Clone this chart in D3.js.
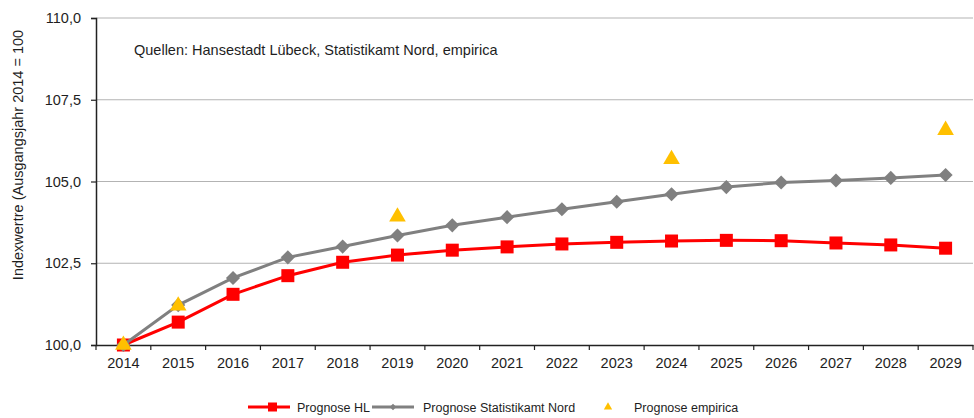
<!DOCTYPE html>
<html><head><meta charset="utf-8">
<script src="https://cdn.jsdelivr.net/npm/d3@7"></script>
<style>body{margin:0;background:#fff}svg{display:block;font-family:"Liberation Sans",Arial,sans-serif}</style>
</head><body><svg id="c" width="974" height="418"></svg>
<script>
const years = ["2014","2015","2016","2017","2018","2019","2020","2021","2022","2023","2024","2025","2026","2027","2028","2029"];
const prognoseHL = [100.0,100.7,101.55,102.12,102.53,102.75,102.9,103.0,103.09,103.14,103.18,103.2,103.19,103.12,103.06,102.96];
const prognoseNord = [100.0,101.22,102.05,102.68,103.01,103.35,103.66,103.91,104.15,104.38,104.61,104.83,104.97,105.03,105.11,105.2];
const prognoseEmpirica = [100.0,101.2,null,null,null,103.92,null,null,null,null,105.68,null,null,null,null,106.57];
const yTicks = [100,102.5,105,107.5,110];
const yTitle = "Indexwertre (Ausgangsjahr 2014 = 100";
const sourceNote = "Quellen: Hansestadt Lübeck, Statistikamt Nord, empirica";
const legendLabels = ["Prognose HL","Prognose Statistikamt Nord","Prognose empirica"];

const svg = d3.select("#c");
const L=96,R=973,T=18,B=345;
const FS=14.5, TXT="#1e1e1e";
const x = d3.scaleBand().domain(years).range([L,R]).padding(0);
const y = d3.scaleLinear().domain([100,110]).range([B,T]);
const fmt = v => d3.format(".1f")(v).replace(".",",");

// gridlines
svg.append("g").selectAll("line").data(yTicks.slice(1)).join("line")
  .attr("x1",L).attr("x2",R).attr("y1",d=>y(d)).attr("y2",d=>y(d))
  .attr("stroke","#b3b3b3").attr("stroke-width",1.2);

// y axis
const ya = svg.append("g").attr("transform",`translate(${L},0)`)
  .call(d3.axisLeft(y).tickValues(yTicks).tickFormat(fmt).tickSize(5).tickPadding(10));
ya.select(".domain").attr("stroke","#222").attr("stroke-width",1.5);
ya.selectAll(".tick line").attr("stroke","#222").attr("stroke-width",1.2);
ya.selectAll("text").attr("font-size",FS).attr("fill",TXT).attr("font-family","Liberation Sans, Arial, sans-serif");

// x axis
const xa = svg.append("g").attr("transform",`translate(0,${B})`)
  .call(d3.axisBottom(x).tickSize(0).tickPadding(13));
xa.select(".domain").attr("stroke","#222").attr("stroke-width",1.5);
xa.selectAll("text").attr("font-size",FS).attr("fill",TXT).attr("font-family","Liberation Sans, Arial, sans-serif");
const bounds = years.map(d=>x(d)).concat([x(years[years.length-1])+x.bandwidth()]);
svg.append("g").selectAll("line").data(bounds).join("line")
  .attr("x1",d=>d).attr("x2",d=>d).attr("y1",B).attr("y2",B+5)
  .attr("stroke","#222").attr("stroke-width",1.2);

// y title
svg.append("text").attr("transform","translate(23,155) rotate(-90)")
  .attr("text-anchor","middle").attr("font-size",FS).attr("fill",TXT).text(yTitle);

// source
svg.append("text").attr("x",134).attr("y",55).attr("font-size",FS).attr("fill",TXT).text(sourceNote);

const cx = d => x(d)+x.bandwidth()/2;
const line = d3.line().defined(d=>d[1]!=null).x(d=>cx(d[0])).y(d=>y(d[1]));

// HL
svg.append("path").datum(years.map((d,i)=>[d,prognoseHL[i]])).attr("d",line)
  .attr("fill","none").attr("stroke","#ff0000").attr("stroke-width",3);
svg.append("g").selectAll("rect").data(years.map((d,i)=>[d,prognoseHL[i]])).join("rect")
  .attr("x",d=>cx(d[0])-6.5).attr("y",d=>y(d[1])-6.5).attr("width",13).attr("height",13)
  .attr("fill","#ff0000");

// Nord
svg.append("path").datum(years.map((d,i)=>[d,prognoseNord[i]])).attr("d",line)
  .attr("fill","none").attr("stroke","#808080").attr("stroke-width",3);
const diamond = d3.symbol().type(d3.symbolSquare).size(100);
svg.append("g").selectAll("path").data(years.map((d,i)=>[d,prognoseNord[i]])).join("path")
  .attr("d",diamond).attr("transform",d=>`translate(${cx(d[0])},${y(d[1])}) rotate(45)`)
  .attr("fill","#808080");

// empirica
const tri = d3.symbol().type(d3.symbolTriangle).size(120);
svg.append("g").selectAll("path").data(years.map((d,i)=>[d,prognoseEmpirica[i]]).filter(d=>d[1]!=null)).join("path")
  .attr("d",tri).attr("transform",d=>`translate(${cx(d[0])},${y(d[1])})`)
  .attr("fill","#ffc000");

// legend
const ly = 407, LFS=12.5;
const lg = svg.append("g");
lg.append("line").attr("x1",248).attr("x2",290).attr("y1",ly).attr("y2",ly).attr("stroke","#ff0000").attr("stroke-width",3);
lg.append("rect").attr("x",268).attr("y",ly-4.5).attr("width",9).attr("height",9).attr("fill","#ff0000");
lg.append("text").attr("x",297).attr("y",ly+4.5).attr("font-size",LFS).attr("fill",TXT).text(legendLabels[0]);
lg.append("line").attr("x1",372).attr("x2",414).attr("y1",ly).attr("y2",ly).attr("stroke","#808080").attr("stroke-width",3);
lg.append("path").attr("d",d3.symbol().type(d3.symbolSquare).size(22)).attr("transform",`translate(393,${ly}) rotate(45)`).attr("fill","#808080");
lg.append("text").attr("x",423).attr("y",ly+4.5).attr("font-size",LFS).attr("fill",TXT).text(legendLabels[1]);
lg.append("path").attr("d",d3.symbol().type(d3.symbolTriangle).size(30)).attr("transform",`translate(608,${ly})`).attr("fill","#ffc000");
lg.append("text").attr("x",634).attr("y",ly+4.5).attr("font-size",LFS).attr("fill",TXT).text(legendLabels[2]);
</script></body></html>
